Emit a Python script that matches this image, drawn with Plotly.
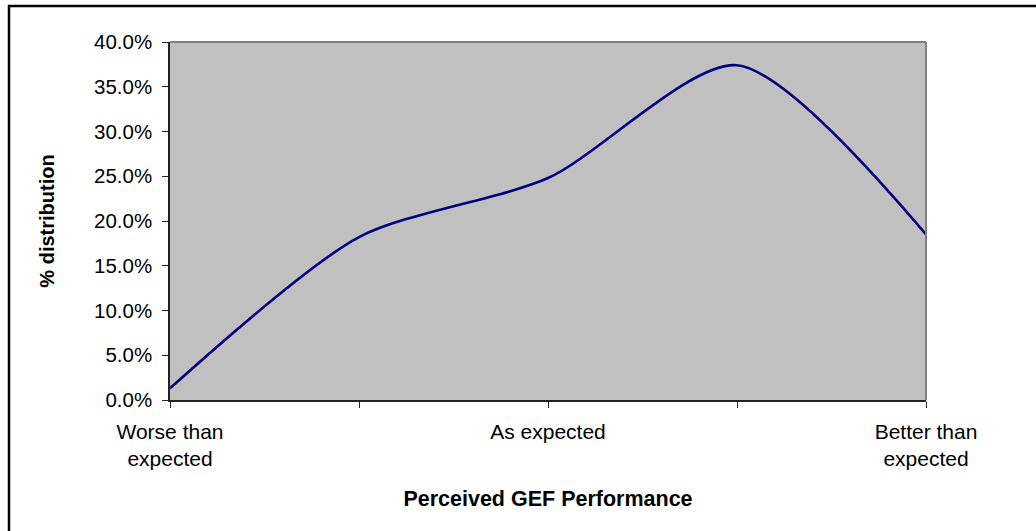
import plotly.graph_objects as go

categories = ["Worse than<br>expected", "", "As expected", "", "Better than<br>expected"]
positions = [0, 1, 2, 3, 4]
values = [0.013, 0.182, 0.248, 0.374, 0.185]
y_ticks = [0.0, 0.05, 0.10, 0.15, 0.20, 0.25, 0.30, 0.35, 0.40]

W, H = 1036, 531
L, R, T, B = 170, 926, 42, 400

def px(x):
    return (x - L) / (R - L)

def py(y):
    return (B - y) / (B - T)

fig = go.Figure()
fig.add_trace(go.Scatter(
    x=positions, y=values, mode="lines",
    line=dict(color="#000080", width=2.6, shape="spline", smoothing=0.75),
    hoverinfo="skip", showlegend=False,
))

fam = "Liberation Sans, Arial, sans-serif"

fig.update_layout(
    width=W, height=H,
    margin=dict(l=L, r=W - R, t=T, b=H - B, pad=0),
    paper_bgcolor="white",
    plot_bgcolor="#C0C0C0",
    font=dict(family=fam, size=18, color="#000000"),
    xaxis=dict(
        range=[0, 4], tickmode="array", tickvals=positions, ticktext=categories,
        showgrid=False, zeroline=False, showline=True, linecolor="#222222", linewidth=1.5,
        ticks="outside", ticklen=6, tickcolor="#222222", tickwidth=1.2,
        ticklabelstandoff=6,
        title=dict(text="<b>Perceived GEF Performance</b>", font=dict(size=21.5), standoff=22),
        tickfont=dict(size=21),
    ),
    yaxis=dict(
        range=[0, 0.40], tickmode="array", tickvals=y_ticks, tickformat=".1%",
        showgrid=False, zeroline=False, showline=True, linecolor="#222222", linewidth=1.5,
        ticks="outside", ticklen=6, tickcolor="#222222", tickwidth=1.2,
        ticklabelstandoff=6,
        title=dict(text="<b>% distribution</b>", font=dict(size=20), standoff=34),
        tickfont=dict(size=20.5),
    ),
    shapes=[
        dict(type="line", xref="paper", yref="paper", x0=0, x1=1, y0=1, y1=1,
             line=dict(color="#808080", width=2)),
        dict(type="line", xref="paper", yref="paper", x0=1, x1=1, y0=0, y1=1,
             line=dict(color="#808080", width=2)),
        dict(type="rect", xref="paper", yref="paper",
             x0=px(9), x1=px(1045), y0=py(545), y1=py(6),
             line=dict(color="#000000", width=2.5)),
    ],
)

fig.write_html(
    "out.html",
    config={"displayModeBar": False},
    post_script="document.body.style.margin='0';document.body.style.overflow='hidden';",
)
